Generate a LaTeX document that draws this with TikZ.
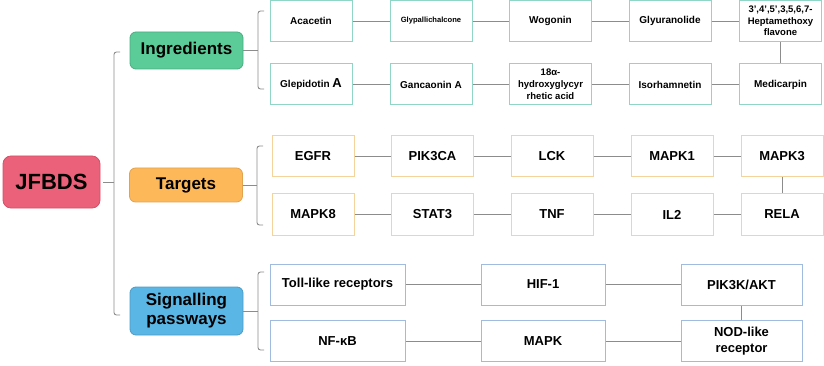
\documentclass[tikz,border=0pt]{standalone}
\usepackage{fontspec}
\setmainfont{Liberation Sans}
\definecolor{ingfill}{HTML}{5BCB98}
\definecolor{ingdraw}{HTML}{49AE82}
\definecolor{ingleaf}{HTML}{8FD6C6}
\definecolor{tgtfill}{HTML}{FDB85A}
\definecolor{tgtdraw}{HTML}{E3A24C}
\definecolor{tgtleaf}{HTML}{F4D39C}
\definecolor{sigfill}{HTML}{5AB6E4}
\definecolor{sigdraw}{HTML}{4C9CC6}
\definecolor{sigleaf}{HTML}{A0BBDF}
\definecolor{rootfill}{HTML}{EB6179}
\definecolor{rootdraw}{HTML}{D45068}
\definecolor{conn}{HTML}{8C8C8C}
\begin{document}
\begin{tikzpicture}[x=1pt,y=1pt,
  every node/.style={font=\bfseries, inner sep=0pt, align=center},
  catbox/.style={rounded corners=6pt, line width=0.8pt, minimum width=113pt, font=\bfseries\fontsize{17}{20}\selectfont},
  rootbox/.style={rounded corners=8pt, line width=0.8pt, fill=rootfill, draw=rootdraw, minimum width=97pt, minimum height=52pt, font=\bfseries\fontsize{22}{26}\selectfont},
  ingbox/.style={draw=ingleaf, line width=1pt, minimum width=82pt, minimum height=41pt, font=\bfseries\fontsize{10}{12}\selectfont},
  tgtbox/.style={draw=tgtleaf, line width=1pt, minimum width=82pt, minimum height=41pt, font=\bfseries\fontsize{13}{15}\selectfont},
  sigbox/.style={draw=sigleaf, line width=1pt, minimum height=41pt, font=\bfseries\fontsize{13}{15}\selectfont},
  link/.style={draw=conn, line width=0.9pt},
  brace/.style={draw=conn, line width=0.9pt, rounded corners=2.5pt}
]
\useasboundingbox (0,0) rectangle (824,-366);

% root and categories
\node[rootbox] (root) at (51.5,-182) {JFBDS};
\node[catbox, fill=ingfill, draw=ingdraw, minimum height=37pt] (ing) at (186.5,-50.5) {Ingredients};
\node[catbox, fill=tgtfill, draw=tgtdraw, minimum height=34pt] (tgt) at (186,-185) {Targets};
\node[catbox, fill=sigfill, draw=sigdraw, minimum height=48pt] (sig) at (186.5,-311) {Signalling\\[-1pt]passways};

% main bracket
\coordinate (mb) at (114,-182);
\draw[link] (root.east) ++(3,0) -- (mb);
\draw[brace] (120,-52) -- (114,-52) -- (114,-315) -- (120,-315);

% ingredient leaves
\node[ingbox] (i1) at (311,-21) {Acacetin};
\node[ingbox, font=\bfseries\fontsize{7.6}{9}\selectfont] (i2) at (431,-21) {Glypallichalcone};
\node[ingbox] (i3) at (550.5,-21) {Wogonin};
\node[ingbox] (i4) at (670,-21) {Glyuranolide};
\node[ingbox, font=\bfseries\fontsize{9.5}{11.5}\selectfont] (i5) at (780.5,-21) {3',4',5',3,5,6,7-\\Heptamethoxy\\flavone};
\node[ingbox] (i6) at (311,-84.5) {Glepidotin {\fontsize{13}{13}\selectfont A}};
\node[ingbox] (i7) at (431,-84.5) {Gancaonin A};
\node[ingbox, font=\bfseries\fontsize{9.5}{12}\selectfont] (i8) at (550.5,-84.5) {18α-\\hydroxyglycyr\\rhetic acid};
\node[ingbox] (i9) at (670,-84.5) {Isorhamnetin};
\node[ingbox] (i10) at (780.5,-84.5) {Medicarpin};
\draw[link] (i1) -- (i2) -- (i3) -- (i4) -- (i5) -- (i10) -- (i9) -- (i8) -- (i7) -- (i6);

% ingredient bracket
\coordinate (ib) at (258,-50.5);
\draw[link] (ing.east) -- (ib);
\draw[brace] (264,-11) -- (258,-11) -- (258,-89) -- (264,-89);

% target leaves
\node[tgtbox] (t1) at (313,-156.5) {EGFR};
\node[tgtbox] (t2) at (432.5,-156.5) {PIK3CA};
\node[tgtbox] (t3) at (552,-156.5) {LCK};
\node[tgtbox] (t4) at (672,-156.5) {MAPK1};
\node[tgtbox] (t5) at (782,-156.5) {MAPK3};
\node[tgtbox] (t6) at (313,-214.5) {MAPK8};
\node[tgtbox] (t7) at (432.5,-214.5) {STAT3};
\node[tgtbox] (t8) at (552,-214.5) {TNF};
\node[tgtbox] (t9) at (672,-214.5) {IL2};
\node[tgtbox] (t10) at (782,-214.5) {RELA};
\draw[link] (t1) -- (t2) -- (t3) -- (t4) -- (t5) -- (t10) -- (t9) -- (t8) -- (t7) -- (t6);

% target bracket
\coordinate (tb) at (257,-185);
\draw[link] (tgt.east) -- (tb);
\draw[brace] (263,-146) -- (257,-146) -- (257,-225) -- (263,-225);

% signalling leaves
\node[sigbox, minimum width=135pt] (s1) at (337.5,-284.5) {Toll-like receptors};
\node[sigbox, minimum width=124pt] (s2) at (543,-284.5) {HIF-1};
\node[sigbox, minimum width=121pt] (s3) at (741.5,-284.5) {PIK3K/AKT};
\node[sigbox, minimum width=135pt] (s4) at (337.5,-341) {NF-κB};
\node[sigbox, minimum width=124pt] (s5) at (543,-341) {MAPK};
\node[sigbox, minimum width=121pt, font=\bfseries\fontsize{13}{16}\selectfont] (s6) at (741.5,-341) {NOD-like\\receptor};
\draw[link] (s1) -- (s2) -- (s3) -- (s6) -- (s5) -- (s4);

% signalling bracket
\coordinate (sb) at (258,-311);
\draw[link] (sig.east) -- (sb);
\draw[brace] (264,-272) -- (258,-272) -- (258,-350) -- (264,-350);
\end{tikzpicture}
\end{document}
